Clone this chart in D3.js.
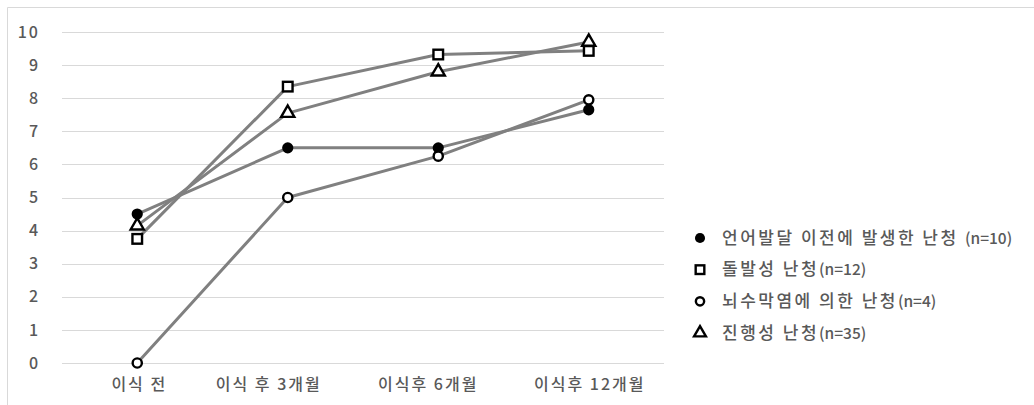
<!DOCTYPE html>
<html><head><meta charset="utf-8">
<script src="https://cdn.jsdelivr.net/npm/d3@7"></script>
<style>
html,body{margin:0;padding:0;background:#fff;}
svg{display:block;}
text{font-family:"Noto Sans CJK KR","Noto Sans",sans-serif;fill:#595959;font-weight:500;}
</style></head>
<body>
<script>
const categories = ["이식 전", "이식 후 3개월", "이식후 6개월", "이식후 12개월"];
const yTicks = [0,1,2,3,4,5,6,7,8,9,10];
const seriesNames = ["언어발달 이전에 발생한 난청 (n=10)", "돌발성 난청(n=12)", "뇌수막염에 의한 난청(n=4)", "진행성 난청(n=35)"];
const prelingual = [4.5, 6.5, 6.5, 7.65];
const sudden = [3.75, 8.35, 9.32, 9.43];
const meningitis = [0, 5.0, 6.25, 7.95];
const progressive = [4.15, 7.55, 8.8, 9.7];
const seriesValues = [prelingual, sudden, meningitis, progressive];
const markerTypes = ["filledCircle", "square", "openCircle", "triangle"];

const W = 1034, H = 405;
const svg = d3.select("body").append("svg").attr("width", W).attr("height", H);

// chart area border
svg.append("path").attr("d", `M7.5,${H} V7.5 H${W}`).attr("fill","none").attr("stroke","#d9d9d9").attr("stroke-width",1);

const x = d3.scaleBand().domain(categories).range([62, 664]);
const y = d3.scaleLinear().domain([0, 10]).range([363, 32]);

// gridlines
svg.append("g").selectAll("line").data(yTicks).join("line")
  .attr("x1", 62).attr("x2", 664)
  .attr("y1", d => Math.round(y(d)) + 0.5).attr("y2", d => Math.round(y(d)) + 0.5)
  .attr("stroke", "#d9d9d9").attr("stroke-width", 1);

// y axis labels
const yAxis = d3.axisLeft(y).tickValues(yTicks).tickSize(0).tickPadding(0);
const ya = svg.append("g").attr("transform","translate(40,0)").call(yAxis);
ya.select(".domain").remove();
ya.selectAll("text").attr("font-family", null).attr("font-size", null)
  .style("font-size","16px").style("letter-spacing","2px").attr("fill","#595959");

// x axis labels
const labelShift = [1, -20, -11, 0];
const xAxis = d3.axisBottom(x).tickSize(0).tickPadding(0);
const xa = svg.append("g").attr("transform","translate(0,379)").call(xAxis);
xa.select(".domain").remove();
xa.selectAll("text").attr("font-family", null).attr("font-size", null)
  .style("font-size","16px").style("letter-spacing","2px").attr("fill","#595959")
  .attr("dy", "0.71em")
  .attr("dx", (d,i) => labelShift[i] + 1);

const cx = d => x(d) + x.bandwidth()/2;
const line = d3.line().x((v,i) => cx(categories[i])).y(v => y(v));

function drawMarker(g, type, px, py, scale) {
  const s = scale || 1;
  if (type === "filledCircle") {
    g.append("circle").attr("cx", px).attr("cy", py).attr("r", 5.6*s).attr("fill", "#000");
  } else if (type === "openCircle") {
    g.append("circle").attr("cx", px).attr("cy", py).attr("r", 4.6*s).attr("fill", "#fff").attr("stroke","#000").attr("stroke-width", 2.4);
  } else if (type === "square") {
    const h = 4.8*s;
    g.append("rect").attr("x", px-h).attr("y", py-h).attr("width", 2*h).attr("height", 2*h)
      .attr("fill","#fff").attr("stroke","#000").attr("stroke-width", 2.4);
  } else if (type === "triangle") {
    const area = 75*s*s;
    g.append("path").attr("transform", `translate(${px},${py})`)
      .attr("d", d3.symbol(d3.symbolTriangle, area)())
      .attr("fill","#fff").attr("stroke","#000").attr("stroke-width", 2.4).attr("stroke-linejoin","miter");
  }
}

seriesValues.forEach((vals, si) => {
  const g = svg.append("g");
  g.append("path").datum(vals).attr("d", line)
    .attr("fill","none").attr("stroke","#808080").attr("stroke-width", 3).attr("stroke-linejoin","round");
  vals.forEach((v, i) => drawMarker(g, markerTypes[si], cx(categories[i]), y(v), 1));
});

// legend
const legendY = d3.scalePoint().domain(seriesNames).range([238, 333]);
const lg = svg.append("g");
seriesNames.forEach((name, si) => {
  const ly = legendY(name);
  drawMarker(lg, markerTypes[si], 700, ly, 0.9);
  const t = lg.append("text").attr("x", 722).attr("y", ly).attr("dy", "0.36em");
  const parts = name.match(/[\uAC00-\uD7A3 ]+|[^\uAC00-\uD7A3 ]+/g);
  parts.forEach(p => {
    const isHangul = /[\uAC00-\uD7A3]/.test(p);
    t.append("tspan").text(p)
      .style("font-size", isHangul ? "17px" : "15.5px")
      .style("letter-spacing", isHangul ? "2.5px" : "0px")
      .style("white-space","pre");
  });
});
</script>
</body></html>
